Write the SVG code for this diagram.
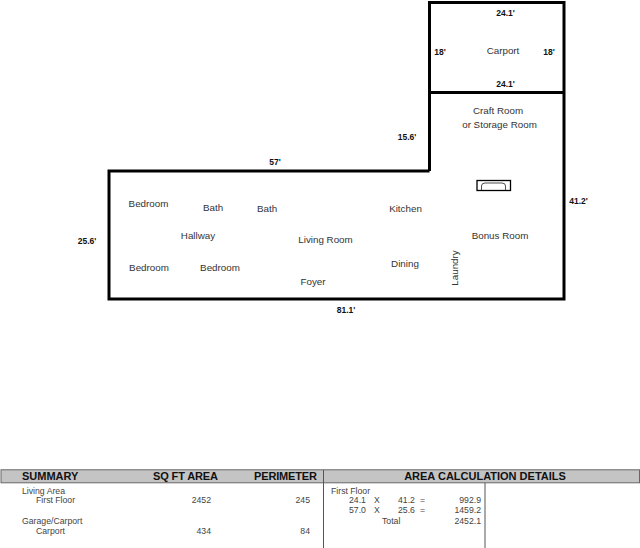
<svg xmlns="http://www.w3.org/2000/svg" width="640" height="548" viewBox="0 0 640 548">
<style>
text{font-family:"Liberation Sans",Arial,sans-serif;fill:#333}
.r{font-size:9.800px;text-anchor:middle}
.d{font-size:8.500px;font-weight:bold;text-anchor:middle;fill:#111}
.t{font-size:8.700px;fill:#444}
.e{text-anchor:end}
.h{font-size:11px;font-weight:bold;fill:#111}
.w{fill:none;stroke:#000;stroke-width:3}
.g{fill:none;stroke:#555;stroke-width:1}
</style>
<rect width="640" height="548" fill="#fff"/>
<g id="plan">
<path class="w" d="M429.500 171V2.500H564V299H109V171H429.500M429.500 92.500H564"/>
<rect x="477" y="180.500" width="33.500" height="10" fill="none" stroke="#000" stroke-width="1.300"/>
<path d="M481.500 190V186Q481.500 183 485 183H502Q505.500 183 505.500 186V190" fill="none" stroke="#222" stroke-width="0.800"/>
</g>
<g id="rooms">
<text class="r" x="503" y="54">Carport</text>
<text class="r" x="498" y="114">Craft Room</text>
<text class="r" x="499.500" y="128">or Storage Room</text>
<text class="r" x="148.500" y="207">Bedroom</text>
<text class="r" x="213" y="211">Bath</text>
<text class="r" x="267" y="212">Bath</text>
<text class="r" x="405.500" y="212">Kitchen</text>
<text class="r" x="198" y="239">Hallway</text>
<text class="r" x="325.500" y="243">Living Room</text>
<text class="r" x="500" y="239">Bonus Room</text>
<text class="r" x="149" y="271">Bedroom</text>
<text class="r" x="220" y="271">Bedroom</text>
<text class="r" x="405" y="267">Dining</text>
<text class="r" x="313" y="285">Foyer</text>
<text class="r" transform="translate(458 268) rotate(-90)">Laundry</text>
</g>
<g id="dimensions">
<text class="d" x="505.500" y="15.500">24.1'</text>
<text class="d" x="440" y="55">18'</text>
<text class="d" x="549" y="55">18'</text>
<text class="d" x="505.500" y="86.500">24.1'</text>
<text class="d" x="407" y="140">15.6'</text>
<text class="d" x="275" y="165">57'</text>
<text class="d" x="578.500" y="204">41.2'</text>
<text class="d" x="87" y="243.500">25.6'</text>
<text class="d" x="346" y="312.500">81.1'</text>
</g>
<g id="summary">
<rect x="1" y="469.800" width="638.500" height="13" fill="#c4c4c4" stroke="#666"/>
<path class="g" d="M323.500 470V548M485 483V548"/>
<text class="h" x="22" y="480">SUMMARY</text>
<text class="h" x="153" y="480" textLength="65">SQ FT AREA</text>
<text class="h" x="254" y="480" textLength="63">PERIMETER</text>
<text class="h" x="485" y="480" text-anchor="middle">AREA CALCULATION DETAILS</text>
<text class="t" x="22" y="494">Living Area</text>
<text class="t" x="36" y="503">First Floor</text>
<text class="t e" x="211" y="503">2452</text>
<text class="t e" x="310" y="503">245</text>
<text class="t" x="22" y="524">Garage/Carport</text>
<text class="t" x="36" y="534">Carport</text>
<text class="t e" x="211" y="534">434</text>
<text class="t e" x="310" y="534">84</text>
<text class="t" x="331" y="494">First Floor</text>
<text class="t" x="349" y="503">24.1</text>
<text class="t" x="374" y="503">X</text>
<text class="t" x="398" y="503">41.2</text>
<text class="t" x="420" y="503">=</text>
<text class="t e" x="481" y="503">992.9</text>
<text class="t" x="349" y="513">57.0</text>
<text class="t" x="374" y="513">X</text>
<text class="t" x="398" y="513">25.6</text>
<text class="t" x="420" y="513">=</text>
<text class="t e" x="481" y="513">1459.2</text>
<text class="t" x="382" y="524">Total</text>
<text class="t e" x="481" y="524">2452.1</text>
</g>
</svg>
